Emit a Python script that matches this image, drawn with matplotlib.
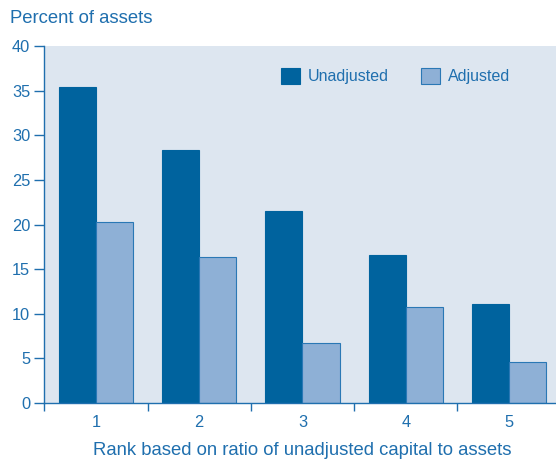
import matplotlib
matplotlib.use("Agg")
import matplotlib.pyplot as plt
import numpy as np
from matplotlib.ticker import FixedLocator

ranks = ["1", "2", "3", "4", "5"]
unadjusted = [35.4, 28.3, 21.5, 16.6, 11.1]
adjusted = [20.3, 16.4, 6.7, 10.8, 4.6]

plt.rcParams['font.family'] = ['Liberation Sans', 'DejaVu Sans']
txt = '#1f6fae'
dark = '#00639e'
light = '#8eb0d6'
bg = '#dde6f0'

fig = plt.figure(figsize=(5.56, 4.63), dpi=100)
ax = fig.add_axes([0.0795, 0.1296, 0.929, 0.771])
ax.set_facecolor(bg)

x = np.arange(1, len(ranks) + 1)
w = 0.36
ax.bar(x - w/2, unadjusted, w, color=dark, edgecolor=dark, linewidth=0.8, label='Unadjusted')
ax.bar(x + w/2, adjusted, w, color=light, edgecolor='#2a78b5', linewidth=0.8, label='Adjusted')

ax.set_xlim(0.5, 5.5)
ax.set_ylim(0, 40)
ax.set_yticks(range(0, 41, 5))
ax.set_xticks(x)
ax.set_xticklabels(ranks)
ax.xaxis.set_minor_locator(FixedLocator(np.arange(0.5, 5.6, 1)))
ax.tick_params(axis='x', which='major', length=0, pad=9, labelsize=11.8, labelcolor=txt)
ax.tick_params(axis='x', which='minor', length=6, width=1, color=txt, direction='out')
ax.tick_params(axis='y', length=7, width=1, color=txt, labelsize=11.8, labelcolor=txt, pad=3)

for s in ['top', 'right']:
    ax.spines[s].set_visible(False)
for s in ['left', 'bottom']:
    ax.spines[s].set_color(txt)
    ax.spines[s].set_linewidth(1)

ax.set_xlabel('Rank based on ratio of unadjusted capital to assets', color=txt, fontsize=13.3, labelpad=8)
fig.text(0.018, 0.95, 'Percent of assets', color=txt, fontsize=13.3, ha='left', va='baseline')

leg = ax.legend(loc='upper right', bbox_to_anchor=(0.93, 0.98), ncol=2, frameon=False,
                handlelength=1.2, handleheight=1.2, columnspacing=2.0, handletextpad=0.5,
                fontsize=11.5)
for t in leg.get_texts():
    t.set_color(txt)

fig.savefig('out.png', dpi=100)
